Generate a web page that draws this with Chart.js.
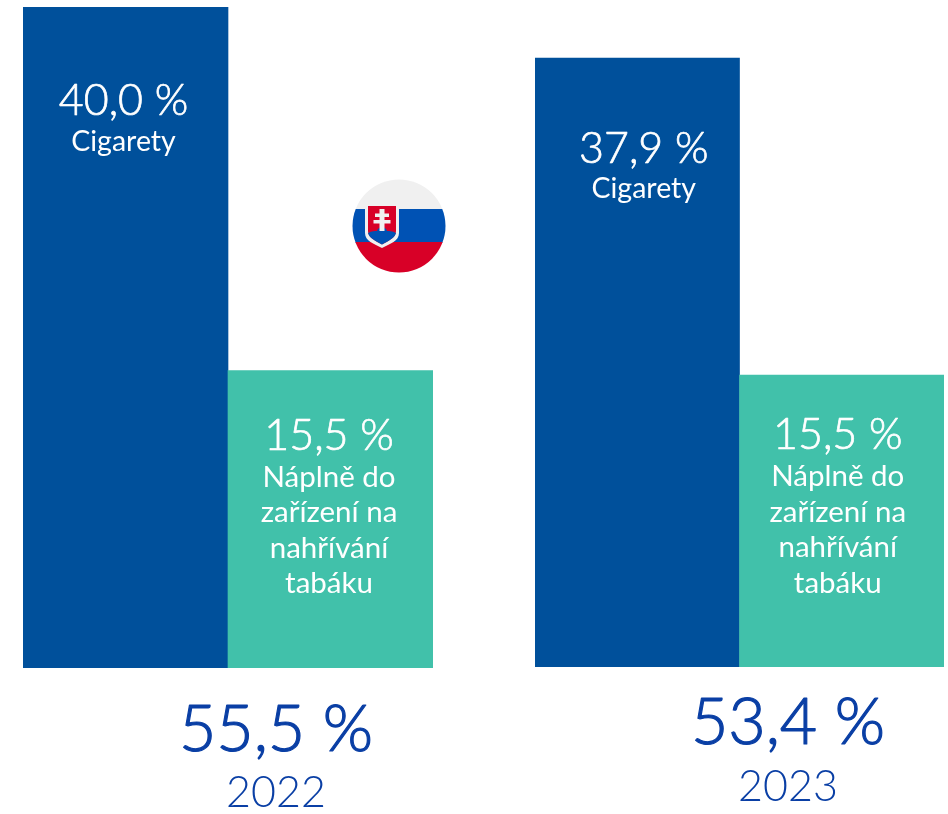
<!DOCTYPE html>
<html lang="sk">
<head>
<meta charset="utf-8">
<style>
html,body{margin:0;padding:0;background:#fff;overflow:hidden}
#stage{position:relative;width:948px;height:814px}
.pane{position:absolute;top:0;width:474px;height:814px}
#flag{position:absolute;left:352px;top:179px;width:94px;height:94px}
</style>
<script src="https://cdn.jsdelivr.net/npm/chart.js@4"></script>
</head>
<body>
<div id="stage">
  <div class="pane" style="left:0"><canvas id="c2022"></canvas></div>
  <div class="pane" style="left:474px"><canvas id="c2023"></canvas></div>
  <svg id="flag" viewBox="0 0 94 94" role="img" aria-label="Slovensko">
    <defs><clipPath id="disc"><circle cx="47" cy="47" r="46.5"/></clipPath></defs>
    <g clip-path="url(#disc)">
      <rect width="94" height="31" fill="#f0f0f0"/>
      <rect y="30" width="94" height="34" fill="#0052b4"/>
      <rect y="63" width="94" height="31" fill="#d80027"/>
    </g>
    <path d="M13 25H47V54C47 62 38 65 30 69C22 65 13 62 13 54Z" fill="#f0f0f0"/>
    <path d="M16 27H44V52C44 59 36 62 30 65.500C24 62 16 59 16 52Z" fill="#d80027"/>
    <path d="M16 54C20 52 23 52 25 52C26 47 34 47 35 52C37 52 40 52 44 54C43 59 36 62 30 65.500C24 62 17 59 16 54Z" fill="#0052b4"/>
    <path d="M27.500 30H32.500V34.500H37V38H32.500V41H38.500V44.500H32.500V52H27.500V44.500H21.500V41H27.500V38H23V34.500H27.500Z" fill="#f0f0f0"/>
  </svg>
</div>
<script>
const categories = ["Cigarety", "Náplně do zařízení na nahřívání tabáku"];
const years = ["2022", "2023"];
// Bar heights, on a scale where the tallest bar reads 40.
const heights2022 = [40.0, 18.0];
const heights2023 = [36.85, 17.67];
const shareLabels2022 = ["40,0 %", "15,5 %"];
const shareLabels2023 = ["37,9 %", "15,5 %"];
const totals = ["55,5 %", "53,4 %"];
const categoryLines = [["Cigarety"], ["Náplně do", "zařízení na", "nahřívání", "tabáku"]];

const BLUE = "#00509b", TEAL = "#41c1aa", INK = "#0a3fa5";
const FONT = "Lato, sans-serif";
const LINE_SIZES = [28.5, 29.5];

function text(ctx, s, x, y, font, color, stroke) {
  ctx.font = font; ctx.fillStyle = color;
  ctx.textAlign = "center"; ctx.textBaseline = "alphabetic";
  ctx.fillText(s, x, y);
  if (stroke) {
    ctx.strokeStyle = color; ctx.lineWidth = stroke; ctx.lineJoin = "round";
    ctx.strokeText(s, x, y);
  }
}

function labelsPlugin(shares, total, year, look) {
  return {
    id: "barTexts",
    afterDatasetsDraw(chart) {
      const ctx = chart.ctx, bars = chart.getDatasetMeta(0).data;
      ctx.save();
      bars.forEach((bar, i) => {
        const x = bar.x + look.dx[i];
        const y = bar.y + look.dy[i];
        text(ctx, shares[i], x, y, "300 43px " + FONT, "#fff", 0.7);
        categoryLines[i].forEach((line, k) => {
          text(ctx, line, x, y + look.first[i] + k * 35.5, "400 " + LINE_SIZES[i] + "px " + FONT, "#fff");
        });
      });
      const mid = chart.chartArea.left + (chart.chartArea.right - chart.chartArea.left) / 2 + look.totalDx;
      const base = chart.chartArea.bottom;
      text(ctx, total, mid, base + look.totalDy, "300 64.5px " + FONT, INK, 1.2);
      text(ctx, year, mid, base + look.yearDy, "300 43px " + FONT, INK);
      ctx.restore();
    }
  };
}

function build(id, values, shares, total, year, padding, look) {
  return new Chart(document.getElementById(id), {
    type: "bar",
    data: {
      labels: categories,
      datasets: [{
        data: values,
        backgroundColor: [BLUE, TEAL],
        borderWidth: 0,
        barPercentage: 1,
        categoryPercentage: 1
      }]
    },
    options: {
      responsive: false,
      animation: false,
      layout: { padding },
      plugins: { legend: { display: false }, tooltip: { enabled: false } },
      scales: {
        x: { display: false },
        y: { display: false, min: 0, max: 40 }
      }
    },
    plugins: [labelsPlugin(shares, total, year, look)]
  });
}

for (const id of ["c2022", "c2023"]) {
  const c = document.getElementById(id); c.width = 474; c.height = 814;
}
build("c2022", heights2022, shareLabels2022, totals[0], years[0],
  { left: 23, right: 41, top: 7, bottom: 146 },
  { dx: [-2, -1.5], dy: [108, 79], first: [36, 37], totalDx: 48, totalDy: 83, yearDy: 139 });
build("c2023", heights2023, shareLabels2023, totals[1], years[1],
  { left: 61, right: 4, top: 6, bottom: 147 },
  { dx: [6.5, -4], dy: [105, 74], first: [35, 37], totalDx: 48.5, totalDy: 77, yearDy: 133.500 });
</script>
</body>
</html>
